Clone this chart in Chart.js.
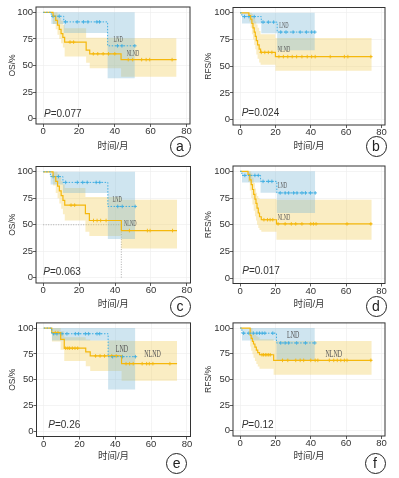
<!DOCTYPE html>
<html lang="zh">
<head>
<meta charset="UTF-8">
<title>OS / RFS</title>
<script src="https://cdn.jsdelivr.net/npm/chart.js"></script>
<style>
  body { margin: 0; width: 399px; height: 478px; position: relative; overflow: hidden; background: #fff;
         font-family: 'Liberation Sans', 'Noto Sans CJK SC', sans-serif; color: #333; }
  canvas { position: absolute; }
  .pv { position: absolute; font-size: 10px; line-height: 12px; color: #333; white-space: nowrap; }
  .tag { position: absolute; width: 21px; height: 21px; box-sizing: border-box; border: 1.2px solid #222;
         border-radius: 50%; text-align: center; font-size: 14px; line-height: 18px; color: #222; background: #fff; }
</style>
</head>
<body>
<script>
const xTicks = [0, 20, 40, 60, 80];
const yTicks = [0, 25, 50, 75, 100];

// curves: [time, survival]; ci: [time, lower, upper]; censored: times
// (a) OS
const aNLND = [[0,100],[5.5,96.5],[7,92.5],[8,88],[9,84],[10,80],[11,76.5],[12,72],[24,64.5],[26,61],[43.5,55.5],[74.5,55.5]];
const aNLNDci = [[5.5,89,100],[7,84,100],[8,79,98],[9,75,95],[10,71,92],[11,67,88],[12,58.4,85],[24,52.7,76],[26,47.3,76],[43.5,39.4,75.7],[74.5,39.4,75.7]];
const aNLNDcens = [15,17,28,30.5,33.5,36.5,40,47.5,50,55,57.5,59.5,72];
const aLND = [[0,100],[4.5,96.3],[11.5,91],[36,68.5],[51.2,68.5]];
const aLNDci = [[4.5,89,100],[11.5,80.5,100],[36,38,100],[51.2,38,100]];
const aLNDcens = [5.5,9,12.5,19,22.5,25,30,31.5,41.5,44,51.2];

// (b) RFS
const bNLND = [[0,100],[5,97.5],[6,94],[6.7,90],[7.3,86],[8,82],[8.6,78],[9.2,74],[9.9,70],[10.8,66],[11.6,63],[20,59],[74.5,59]];
const bNLNDci = [[5,92,100],[6,86,100],[6.7,80,99],[7.3,75,97],[8,70,95],[8.6,66,92],[9.2,61,89],[9.9,57,86],[10.8,53.5,83],[11.6,51.5,80],[20,45.8,76.5],[74.5,45.8,76.5]];
const bNLNDcens = [12,14,16,18,22,24.5,27,29.5,32,35,38,40.5,42.5,51,59,61,74];
const bLND = [[0,100],[1,96.5],[12,91.3],[21,82],[42.3,82]];
const bLNDci = [[1,90,100],[12,81,100],[21,65,100],[42.3,65,100]];
const bLNDcens = [2.5,5,8,13,16,19,23,26,30,34,37.5,40.5,42.3];

// (c) OS
const cNLND = [[0,100],[5.5,95.5],[7,91],[8,86.5],[9,82],[10,77.5],[11,73],[12,68.5],[23.5,60.5],[25.7,54],[43.5,44.5],[74.5,44.5]];
const cNLNDci = [[5.5,87,100],[7,80,100],[8,75,98],[9,70,95],[10,65,91],[11,60,88],[12,54,84.8],[23.5,43.5,76.2],[25.7,39.4,76.2],[43.5,27.6,73.7],[74.5,27.6,73.7]];
const cNLNDcens = [15.5,17.5,28,30,32,35,48,58,59.5,72];
const cLND = [[0,100],[4,95.5],[11,90],[36,67.3],[51.2,67.3]];
const cLNDci = [[4,88,100],[11,80,100],[36,36.5,100],[51.2,36.5,100]];
const cLNDcens = [5.5,8.5,12.5,19,22,24.5,29.5,31.5,41.5,44,51.2];

// (d) RFS
const dNLND = [[0,100],[4.5,97],[5.5,92],[6.3,87.5],[7,83],[7.7,78.5],[8.4,74],[9,70],[9.6,65.5],[10.3,61],[11,57.5],[12,54.7],[20.6,50.8],[74.5,50.8]];
const dNLNDci = [[4.5,90,100],[5.5,82,100],[6.3,75,98],[7,69,94],[7.7,63,89],[8.4,58,84],[9,54,80],[9.6,50,77],[10.3,47,75],[11,45,74],[12,43.5,74],[20.6,36,73.5],[74.5,36,73.5]];
const dNLNDcens = [13.5,15.5,17,18.5,21.5,25.5,29,31.5,35,40,41.5,43,60.5,74];
const dLND = [[0,100],[1,96.2],[11.6,90.6],[20.8,79.8],[42.5,79.8]];
const dLNDci = [[1,89.5,100],[11.6,80,100],[20.8,61,100],[42.5,61,100]];
const dLNDcens = [2.7,5.5,8.4,10.3,13,16,18,22.7,25.5,27.5,30.3,32.2,35,37,39.8,42.5];

// (e) OS
const eNLND = [[0,100],[4.5,95.5],[9.5,89],[11.5,80.5],[23.5,77],[26,73],[43.5,65.5],[74.5,65.5]];
const eNLNDci = [[4.5,87,100],[9.5,79,97],[11.5,68,91],[23.5,63,89],[26,58.5,88],[43.5,49,87.5],[74.5,49,87.5]];
const eNLNDcens = [6.5,8,12.3,13.5,14.5,16,17.5,19,29,31.5,34,38,40.5,46,48,50,55,57.5,59,61,70.5];
const eLND = [[0,100],[4.5,94.5],[36,72.3],[51.2,72.3]];
const eLNDci = [[4.5,88,100],[36,40.5,100],[51.2,40.5,100]];
const eLNDcens = [5.6,7.4,10.2,13,17.7,19.5,23.3,25.1,29.8,31.3,38.5,44,51.2];

// (f) RFS
const fNLND = [[0,100],[5.7,93],[6.3,90],[7,87],[7.6,84.5],[8.4,81.5],[9.2,78.5],[10,76],[11,74],[19,68.6],[74.5,68.6]];
const fNLNDci = [[5.7,82,100],[6.3,78,100],[7,74.5,97],[7.6,71,95],[8.4,68,94],[9.2,65,92],[10,62.5,91],[11,60.5,89],[19,54.5,87.5],[74.5,54.5,87.5]];
const fNLNDcens = [12.4,13.3,14.3,15.2,16.2,17.1,24,27,31.5,34,36,40,42.5,44,50.5,53,55,57,59,60.5,74];
const fLND = [[0,100],[1,95],[20.6,85.5],[42.3,85.5]];
const fLNDci = [[1,88,100],[20.6,68.5,100],[42.3,68.5,100]];
const fLNDcens = [2,5,7.5,9.5,11,12.5,14,18.5,23,25.5,27.5,32,37,42.3];

const YELLOW = '#f5b80c';
const BLUE = '#3eaee2';
const YELLOW_BAND = 'rgba(242,204,90,0.36)';
const BLUE_BAND = 'rgba(115,180,210,0.34)';

const panels = [
  {x:0, y:0, w:200, h:160, area:[36,7,190,124], yTitle:'OS/%', yPad:7.3, xPad:8.3, p:'0.077', pPos:[44,114], tag:'a', tagPos:[180,146.7],
   nlnd:aNLND, nlndCi:aNLNDci, nlndCens:aNLNDcens, lnd:aLND, lndCi:aLNDci, lndCens:aLNDcens, lab:7.5, lndAt:[41.8,74.1], nlndAt:[50.2,60.6]},
  {x:200, y:0, w:199, h:160, area:[33,7.5,185,125], yTitle:'RFS/%', yPad:3.3, xPad:8.3, p:'0.024', pPos:[241.7,113.3], tag:'b', tagPos:[376,146.7],
   nlnd:bNLND, nlndCi:bNLNDci, nlndCens:bNLNDcens, lnd:bLND, lndCi:bLNDci, lndCens:bLNDcens, lab:7.5, lndAt:[24.8,87.4], nlndAt:[24.9,64.9]},
  {x:0, y:160, w:200, h:158, area:[36,6.5,190.5,123], yTitle:'OS/%', yPad:7.3, xPad:7.7, p:'0.063', pPos:[43.3,272.3], tag:'c', tagPos:[180,306.7], median:true,
   nlnd:cNLND, nlndCi:cNLNDci, nlndCens:cNLNDcens, lnd:cLND, lndCi:cLNDci, lndCens:cLNDcens, lab:7.5, lndAt:[41.1,73], nlndAt:[48.4,50.8]},
  {x:200, y:160, w:199, h:158, area:[33,6,185,123.5], yTitle:'RFS/%', yPad:3.3, xPad:7.7, p:'0.017', pPos:[242.3,270.7], tag:'d', tagPos:[376,306.7],
   nlnd:dNLND, nlndCi:dNLNDci, nlndCens:dNLNDcens, lnd:dLND, lndCi:dLNDci, lndCens:dLNDcens, lab:7.5, lndAt:[24,85.8], nlndAt:[24.8,56.3]},
  {x:0, y:318, w:200, h:160, area:[36.5,2,190.5,118.5], yTitle:'OS/%', yPad:7.3, xPad:15.7, p:'0.26', pPos:[48.3,425.3], tag:'e', tagPos:[176.7,463],
   nlnd:eNLND, nlndCi:eNLNDci, nlndCens:eNLNDcens, lnd:eLND, lndCi:eLNDci, lndCens:eLNDcens, lab:10, lndAt:[43.7,79.2], nlndAt:[60.8,74.5]},
  {x:200, y:318, w:199, h:160, area:[33,2,185,118], yTitle:'RFS/%', yPad:3.3, xPad:16.3, p:'0.12', pPos:[241.7,425.3], tag:'f', tagPos:[375,463],
   nlnd:fNLND, nlndCi:fNLNDci, nlndCens:fNLNDcens, lnd:fLND, lndCi:fLNDci, lndCens:fLNDcens, lab:10, lndAt:[30.1,92.7], nlndAt:[53,74.8]}
];

// survival value at time t on a step curve
function survAt(curve, t) {
  let s = curve[0][1];
  for (const [tt, v] of curve) { if (tt <= t) s = v; }
  return s;
}

const boxPlugin = {
  id: 'box',
  afterDraw(chart) {
    const a = chart.chartArea, g = chart.ctx;
    g.save();
    g.strokeStyle = '#333';
    g.lineWidth = 1;
    g.strokeRect(a.left, a.top, a.right - a.left, a.bottom - a.top);
    g.restore();
  }
};

const groupLabels = {
  id: 'groupLabels',
  afterDatasetsDraw(chart, args, opts) {
    const g = chart.ctx, xs = chart.scales.x, ys = chart.scales.y;
    g.save();
    g.fillStyle = '#555';
    g.font = `${opts.size}px 'Liberation Serif', serif`;
    g.textAlign = 'center';
    g.textBaseline = 'middle';
    for (const [txt, pos] of [['LND', opts.lndAt], ['NLND', opts.nlndAt]]) {
      g.save();
      g.translate(xs.getPixelForValue(pos[0]), ys.getPixelForValue(pos[1]));
      g.scale(0.6, 1);
      g.fillText(txt, 0, 0);
      g.restore();
    }
    g.restore();
  }
};

function draw(p) {
  const cv = document.createElement('canvas');
  cv.width = p.w;
  cv.height = p.h;
  cv.style.left = p.x + 'px';
  cv.style.top = p.y + 'px';
  cv.style.width = p.w + 'px';
  cv.style.height = p.h + 'px';
  document.body.appendChild(cv);

  const pts = arr => arr.map(([t, s]) => ({x: t, y: s}));
  const cens = (curve, times) => times.map(t => ({x: t, y: survAt(curve, t)}));
  const line = (data, color, dash, w) => ({data, borderColor: color, borderWidth: w, borderDash: dash, stepped: true, pointRadius: 0, fill: false});
  const marks = (data, color) => ({data, showLine: false, pointStyle: 'cross', pointRadius: 1.8, pointBorderWidth: 0.9, pointBorderColor: color, borderColor: color});
  const band = (ci, color) => [
    {data: ci.map(([t, lo, hi]) => ({x: t, y: hi})), stepped: true, borderWidth: 0, pointRadius: 0, fill: '+1', backgroundColor: color},
    {data: ci.map(([t, lo, hi]) => ({x: t, y: lo})), stepped: true, borderWidth: 0, pointRadius: 0, fill: false}
  ];

  const datasets = [
    line(pts(p.lnd), BLUE, [1.5, 1.5], 1),
    line(pts(p.nlnd), YELLOW, [], 1.2),
    marks(cens(p.lnd, p.lndCens), BLUE),
    marks(cens(p.nlnd, p.nlndCens), YELLOW),
    ...band(p.lndCi, BLUE_BAND),
    ...band(p.nlndCi, YELLOW_BAND)
  ];
  if (p.median) {
    const tm = p.nlnd.find(([t, s]) => s <= 50)[0];
    datasets.push({data: [{x: 0, y: 50}, {x: tm, y: 50}, {x: tm, y: 0}], borderColor: '#999', borderWidth: 0.8,
                   borderDash: [1, 1.5], pointRadius: 0, fill: false});
  }

  const tickFont = {family: "'Liberation Sans', sans-serif", size: 9.5, lineHeight: 1};
  const gridOpt = {color: '#ededed', lineWidth: 0.6, drawTicks: true, tickLength: 3, tickColor: '#333', tickWidth: 0.8};

  new Chart(cv, {
    type: 'line',
    data: {datasets},
    options: {
      responsive: false,
      animation: false,
      devicePixelRatio: 1,
      layout: {padding: {left: 0, top: p.area[1], right: p.w - p.area[2], bottom: 0}},
      plugins: {
        legend: {display: false},
        tooltip: {enabled: false},
        groupLabels: {size: p.lab, lndAt: p.lndAt, nlndAt: p.nlndAt}
      },
      scales: {
        x: {
          type: 'linear', min: -4, max: 82,
          afterBuildTicks: s => { s.ticks = xTicks.map(v => ({value: v})); },
          afterFit: s => { s.height = p.h - p.area[3]; },
          grid: gridOpt,
          border: {display: false},
          ticks: {font: tickFont, color: '#333', padding: 0, maxRotation: 0},
          title: {display: true, text: '时间/月', color: '#333',
                  font: {family: "'Liberation Sans', 'Noto Sans CJK SC', sans-serif", size: 9.5, lineHeight: 1.2},
                  padding: {top: 0, bottom: p.xPad}}
        },
        y: {
          type: 'linear', min: -5, max: 105,
          afterBuildTicks: s => { s.ticks = yTicks.map(v => ({value: v})); },
          afterFit: s => { s.width = p.area[0]; },
          grid: gridOpt,
          border: {display: false},
          ticks: {font: tickFont, color: '#333', padding: 0},
          title: {display: true, text: p.yTitle, color: '#333',
                  font: {family: "'Liberation Sans', sans-serif", size: 8.5, lineHeight: 1.2},
                  padding: {top: p.yPad, bottom: 0}}
        }
      }
    },
    plugins: [boxPlugin, groupLabels]
  });

  const pv = document.createElement('div');
  pv.className = 'pv';
  pv.style.left = p.pPos[0] + 'px';
  pv.style.top = (p.pPos[1] - 6) + 'px';
  pv.innerHTML = '<i>P</i>=' + p.p;
  document.body.appendChild(pv);

  const tag = document.createElement('div');
  tag.className = 'tag';
  tag.style.left = (p.tagPos[0] - 10.5) + 'px';
  tag.style.top = (p.tagPos[1] - 10.5) + 'px';
  tag.textContent = p.tag;
  document.body.appendChild(tag);
}

panels.forEach(draw);
</script>
</body>
</html>
